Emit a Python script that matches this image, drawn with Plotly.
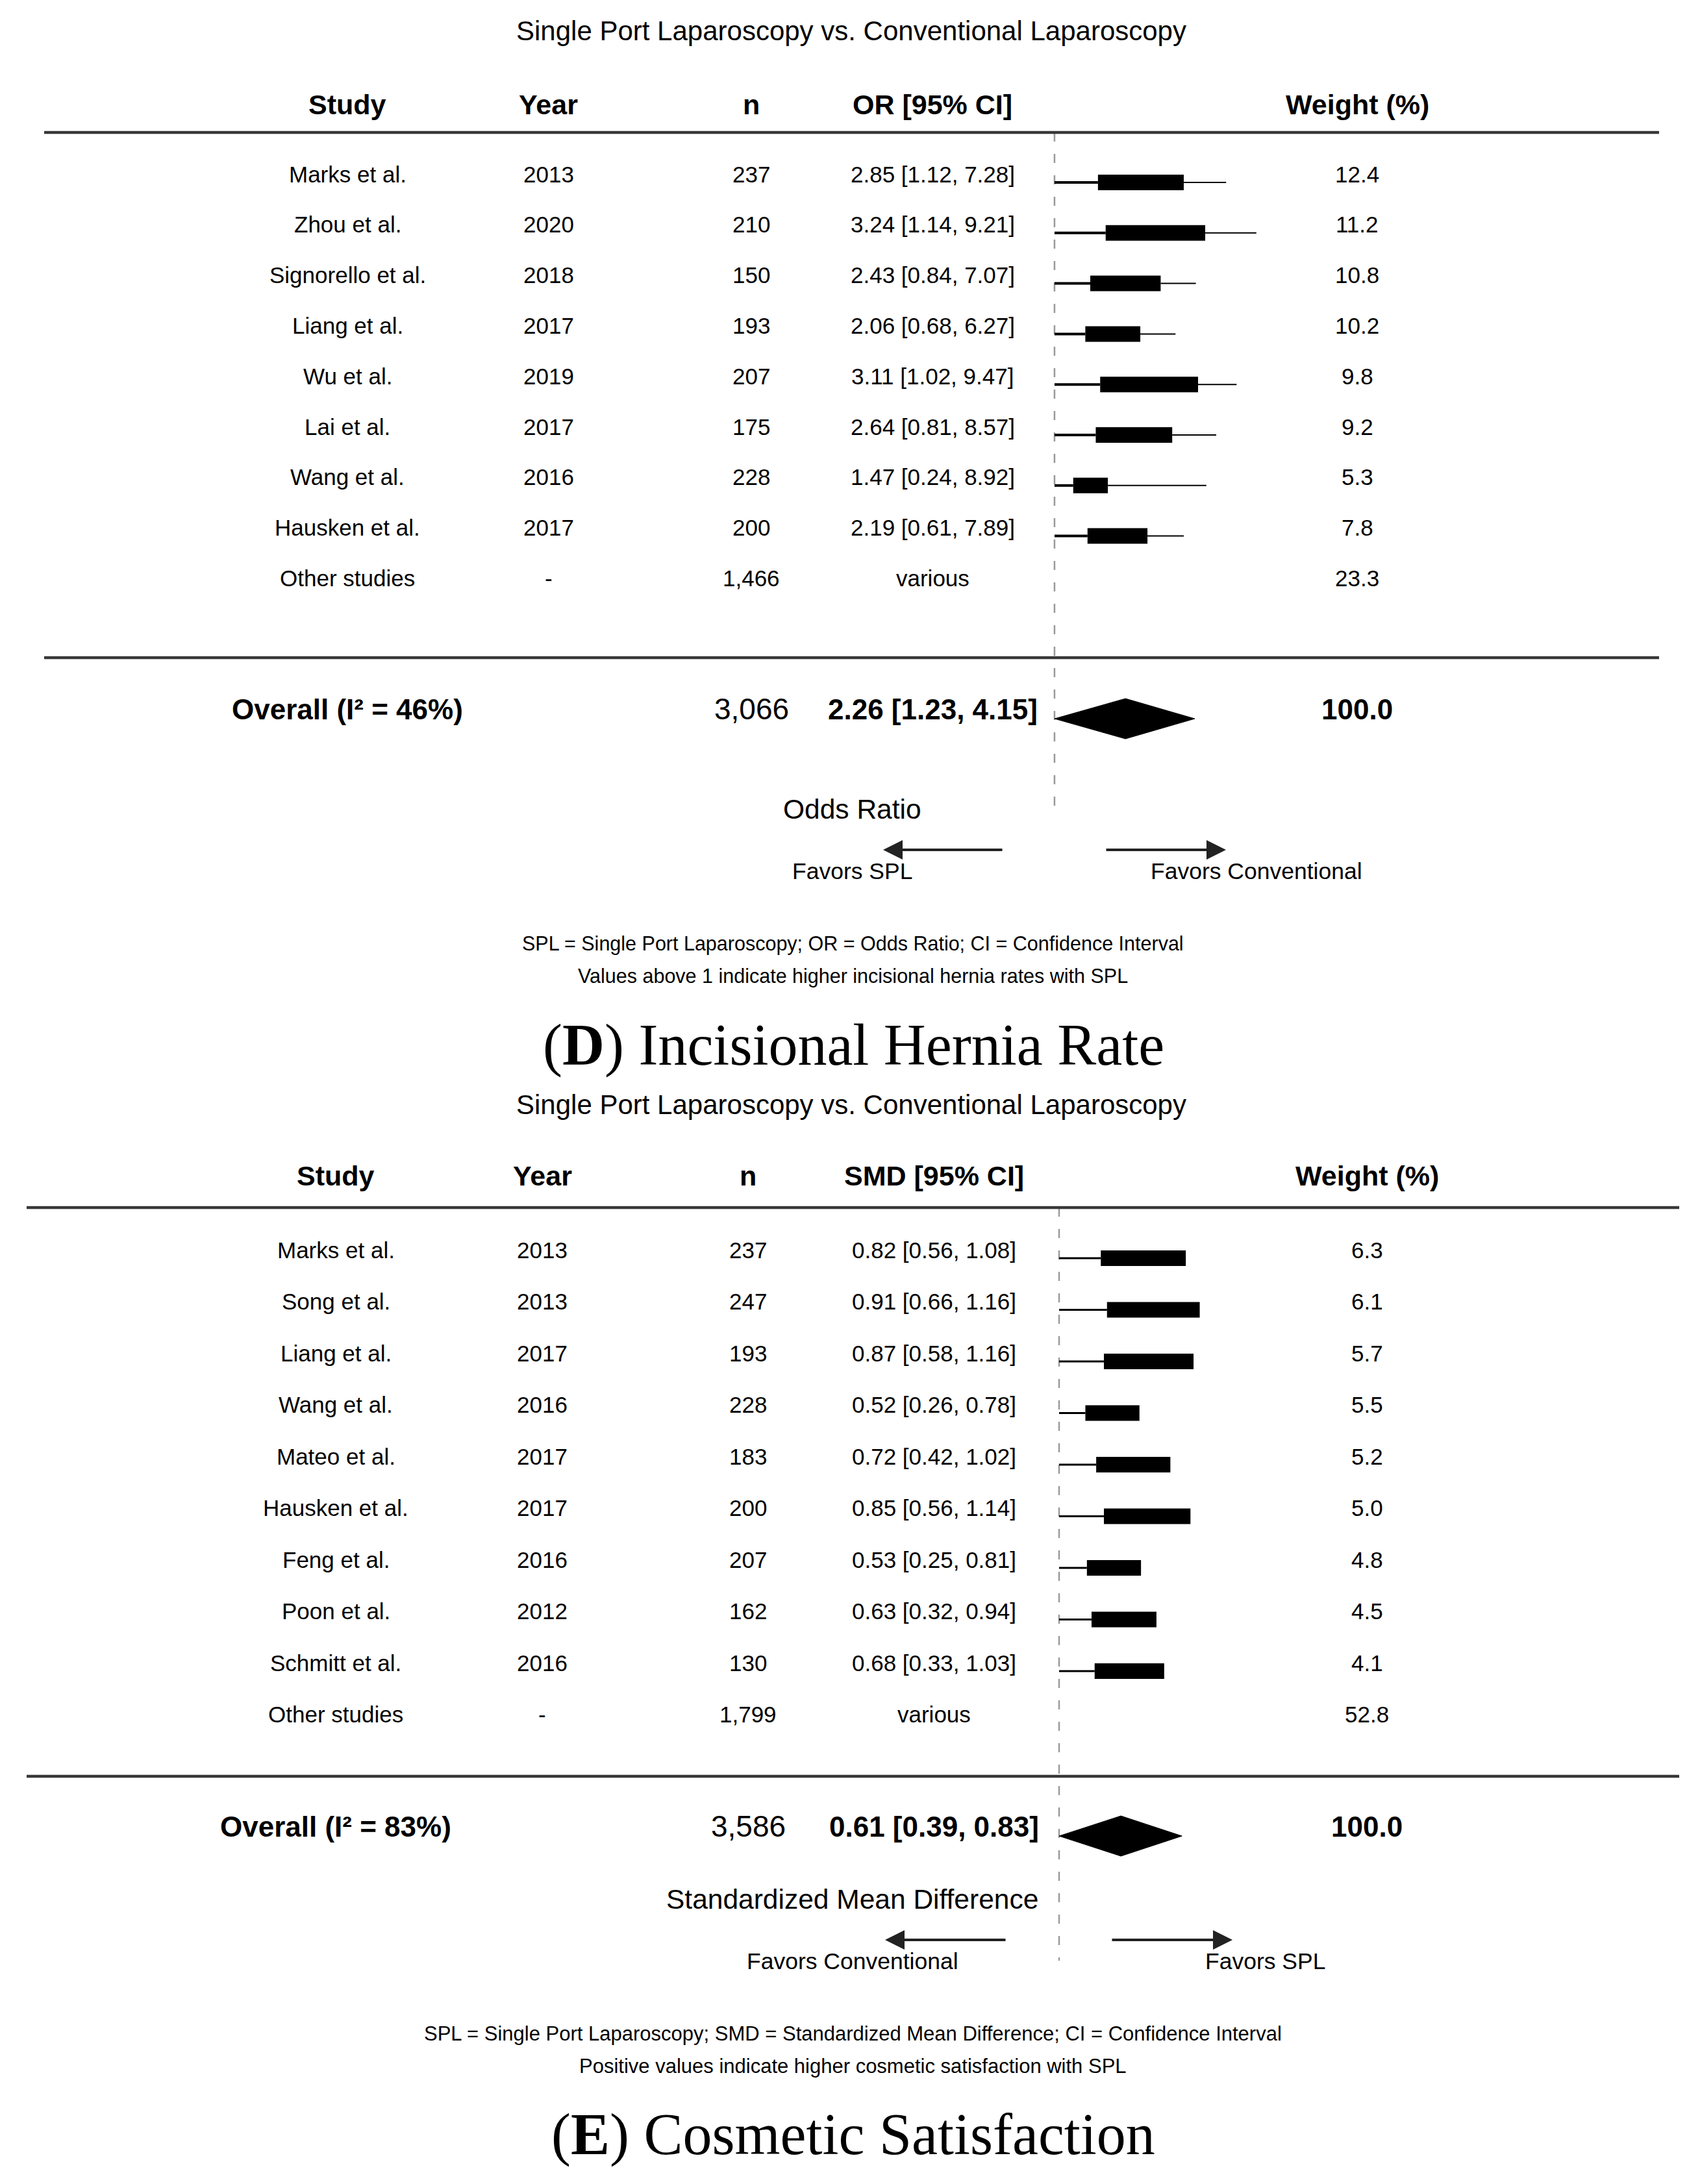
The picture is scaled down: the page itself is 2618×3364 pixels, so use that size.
import plotly.graph_objects as go

W, H = 2618, 3364          # page (window) size
OFF = 8                    # default body margin of the html page
FW, FH = W - OFF, H - OFF  # figure size so that it fills the window exactly
SANS = "Liberation Sans, Arial, Helvetica, sans-serif"
SERIF = "Liberation Serif, Times New Roman, serif"

# ---------------- Panel D: Incisional hernia rate (odds ratio) ----------------
studies_d = ["Marks et al.", "Zhou et al.", "Signorello et al.", "Liang et al.",
             "Wu et al.", "Lai et al.", "Wang et al.", "Hausken et al."]
years_d = [2013, 2020, 2018, 2017, 2019, 2017, 2016, 2017]
n_d = [237, 210, 150, 193, 207, 175, 228, 200]
or_d = [2.85, 3.24, 2.43, 2.06, 3.11, 2.64, 1.47, 2.19]
or_lo_d = [1.12, 1.14, 0.84, 0.68, 1.02, 0.81, 0.24, 0.61]
or_hi_d = [7.28, 9.21, 7.07, 6.27, 9.47, 8.57, 8.92, 7.89]
weight_d = [12.4, 11.2, 10.8, 10.2, 9.8, 9.2, 5.3, 7.8]
# plotted extents as drawn in the figure (axis units)
box_start_d = [1.29, 1.43, 1.15, 1.06, 1.33, 1.25, 0.84, 1.10]
whisker_end_d = [3.62, 4.17, 3.07, 2.70, 3.81, 3.44, 3.26, 2.85]
ref_d = 0.5
other_n_d = 1466
other_weight_d = 23.3
overall_n_d = 3066
overall_or_d = [2.26, 1.23, 4.15]
overall_i2_d = 46
diamond_d = [0.5, 1.79, 3.05]

# ---------------- Panel E: Cosmetic satisfaction (SMD) ----------------
studies_e = ["Marks et al.", "Song et al.", "Liang et al.", "Wang et al.", "Mateo et al.",
             "Hausken et al.", "Feng et al.", "Poon et al.", "Schmitt et al."]
years_e = [2013, 2013, 2017, 2016, 2017, 2017, 2016, 2012, 2016]
n_e = [237, 247, 193, 228, 183, 200, 207, 162, 130]
smd_e = [0.82, 0.91, 0.87, 0.52, 0.72, 0.85, 0.53, 0.63, 0.68]
smd_lo_e = [0.56, 0.66, 0.58, 0.26, 0.42, 0.56, 0.25, 0.32, 0.33]
smd_hi_e = [1.08, 1.16, 1.16, 0.78, 1.02, 1.14, 0.81, 0.94, 1.03]
weight_e = [6.3, 6.1, 5.7, 5.5, 5.2, 5.0, 4.8, 4.5, 4.1]
box_start_e = [0.27, 0.31, 0.29, 0.17, 0.24, 0.29, 0.18, 0.21, 0.23]
ref_e = 0.0
other_n_e = 1799
other_weight_e = 52.8
overall_n_e = 3586
overall_smd_e = [0.61, 0.39, 0.83]
overall_i2_e = 83
diamond_e = [0.0, 0.40, 0.795]

# ---------------- layout geometry (page pixels) ----------------
D_ORIGIN, D_SCALE = 1581.6, 84.7     # page x of value 0 and px per unit, panel D
E_ORIGIN, E_SCALE = 1631.0, 238.0    # panel E
rows_d_y0, rows_d_dy = 270, 77.8
rows_e_y0, rows_e_dy = 1927, 79.5
BAR_OFF = 11
BOX_H = 24
TXT_DY = -2                          # nudge for visual centring of text

cols_d = {"study": 535, "year": 845, "n": 1157, "est": 1436, "w": 2090}
cols_e = {"study": 517, "year": 835, "n": 1152, "est": 1438, "w": 2105}

ann = []
shapes = []


def px_x(px):
    return (px - OFF) / FW


def px_y(py):
    return 1 - (py - OFF) / FH


def txt(s, px, py, size, bold=False, family=SANS, color="#000"):
    ann.append(dict(text=f"<b>{s}</b>" if bold else s, x=px_x(px), y=px_y(py + TXT_DY),
                    xref="paper", yref="paper", showarrow=False,
                    font=dict(size=size, family=family, color=color),
                    xanchor="center", yanchor="middle"))


def hline(py, x0, x1, width=4.5, color="#383838"):
    shapes.append(dict(type="line", xref="paper", yref="paper",
                       x0=px_x(x0), x1=px_x(x1), y0=px_y(py), y1=px_y(py),
                       line=dict(color=color, width=width)))


def arrow(head_x, tail_x, py):
    ann.append(dict(text="", x=px_x(head_x), y=px_y(py), xref="paper", yref="paper",
                    showarrow=True, ax=tail_x - head_x, ay=0, axref="pixel", ayref="pixel",
                    arrowhead=2, arrowsize=1.5, arrowwidth=4, arrowcolor="#222"))


fig = go.Figure()


def panel(title_y, header_y, line_top, line_bot, cols, est_hdr, studies, years, ns, est, lo, hi,
          weights, other_n, other_w, rows_y0, rows_dy, overall_y, overall_n, overall_est,
          i2, axis_label, label_y, favors_y, fav_left, fav_right, fav_left_x, fav_right_x,
          arrows, foot1, foot2, foot_y, foot_size, caption, caption_y, line_x0, line_x1):
    txt("Single Port Laparoscopy vs. Conventional Laparoscopy", 1311, title_y, 42)
    for key, lab in [("study", "Study"), ("year", "Year"), ("n", "n"), ("est", est_hdr),
                     ("w", "Weight (%)")]:
        txt(lab, cols[key], header_y, 43, bold=True)
    hline(line_top, line_x0, line_x1)
    hline(line_bot, line_x0, line_x1)
    for i, s in enumerate(studies):
        y = rows_y0 + rows_dy * i
        txt(s, cols["study"], y, 35)
        txt(str(years[i]), cols["year"], y, 35)
        txt(f"{ns[i]:,}", cols["n"], y, 35)
        txt(f"{est[i]:.2f} [{lo[i]:.2f}, {hi[i]:.2f}]", cols["est"], y, 35)
        txt(f"{weights[i]:.1f}", cols["w"], y, 35)
    y = rows_y0 + rows_dy * len(studies)
    txt("Other studies", cols["study"], y, 35)
    txt("-", cols["year"], y, 35)
    txt(f"{other_n:,}", cols["n"], y, 35)
    txt("various", cols["est"], y, 35)
    txt(f"{other_w:.1f}", cols["w"], y, 35)
    txt(f"Overall (I² = {i2}%)", cols["study"], overall_y, 44, bold=True)
    txt(f"{overall_n:,}", cols["n"], overall_y, 46)
    txt(f"{overall_est[0]:.2f} [{overall_est[1]:.2f}, {overall_est[2]:.2f}]", cols["est"],
        overall_y, 44, bold=True)
    txt("100.0", cols["w"], overall_y, 44, bold=True)
    txt(axis_label, 1312, label_y, 42.5)
    txt(fav_left, fav_left_x, favors_y, 35.5)
    txt(fav_right, fav_right_x, favors_y, 35.5)
    for (hx, tx) in arrows:
        arrow(hx, tx, favors_y - 35)
    txt(foot1, 1313, foot_y, foot_size)
    txt(foot2, 1313, foot_y + 50, foot_size)
    txt(caption, 1314, caption_y, 90, family=SERIF)


panel(50, 163, 204, 1013, cols_d, "OR [95% CI]", studies_d, years_d, n_d, or_d, or_lo_d,
      or_hi_d, weight_d, other_n_d, other_weight_d, rows_d_y0, rows_d_dy, 1094, overall_n_d,
      overall_or_d, overall_i2_d, "Odds Ratio", 1248, 1344, "Favors SPL", "Favors Conventional",
      1312, 1935, [(1360, 1545), (1888, 1702)],
      "SPL = Single Port Laparoscopy; OR = Odds Ratio; CI = Confidence Interval",
      "Values above 1 indicate higher incisional hernia rates with SPL", 1455, 30.5,
      "(<b>D</b>) Incisional Hernia Rate", 1612, 68, 2555)

panel(1703, 1813, 1860, 2736, cols_e, "SMD [95% CI]", studies_e, years_e, n_e, smd_e, smd_lo_e,
      smd_hi_e, weight_e, other_n_e, other_weight_e, rows_e_y0, rows_e_dy, 2815, overall_n_e,
      overall_smd_e, overall_i2_e, "Standardized Mean Difference", 2927, 3023,
      "Favors Conventional", "Favors SPL", 1313, 1948, [(1363, 1550), (1898, 1711)],
      "SPL = Single Port Laparoscopy; SMD = Standardized Mean Difference; CI = Confidence Interval",
      "Positive values indicate higher cosmetic satisfaction with SPL", 3134, 31,
      "(<b>E</b>) Cosmetic Satisfaction", 3290, 41, 2586)

# ---------------- marks (through the axes) ----------------
bar_y_d = [rows_d_y0 + rows_d_dy * i + BAR_OFF for i in range(len(studies_d))]
bar_y_e = [rows_e_y0 + rows_e_dy * i + BAR_OFF for i in range(len(studies_e))]

# reference dashed lines
fig.add_trace(go.Scatter(x=[ref_d, ref_d], y=[204, 1247], mode="lines", xaxis="x", yaxis="y",
                         line=dict(color="#9a9a9a", width=2.5, dash="14px,19px"),
                         hoverinfo="skip", showlegend=False))
fig.add_trace(go.Scatter(x=[ref_e, ref_e], y=[1860, 3020], mode="lines", xaxis="x2", yaxis="y",
                         line=dict(color="#9a9a9a", width=2.5, dash="14px,19px"),
                         hoverinfo="skip", showlegend=False))

# boxes
fig.add_trace(go.Bar(y=bar_y_d, x=[e - b for e, b in zip(or_d, box_start_d)], base=box_start_d,
                     orientation="h", width=BOX_H, marker=dict(color="black", line=dict(width=0)),
                     xaxis="x", yaxis="y", showlegend=False))
fig.add_trace(go.Bar(y=bar_y_e, x=[e - b for e, b in zip(smd_e, box_start_e)], base=box_start_e,
                     orientation="h", width=BOX_H, marker=dict(color="black", line=dict(width=0)),
                     xaxis="x2", yaxis="y", showlegend=False))

# whisker lines
lx, ly, rx, ry = [], [], [], []
for i in range(len(studies_d)):
    lx += [ref_d, box_start_d[i], None]
    ly += [bar_y_d[i], bar_y_d[i], None]
    rx += [or_d[i], whisker_end_d[i], None]
    ry += [bar_y_d[i], bar_y_d[i], None]
fig.add_trace(go.Scatter(x=lx, y=ly, mode="lines", xaxis="x", yaxis="y",
                         line=dict(color="black", width=4), showlegend=False))
fig.add_trace(go.Scatter(x=rx, y=ry, mode="lines", xaxis="x", yaxis="y",
                         line=dict(color="black", width=2), showlegend=False))
ex, ey = [], []
for i in range(len(studies_e)):
    ex += [ref_e, box_start_e[i], None]
    ey += [bar_y_e[i], bar_y_e[i], None]
fig.add_trace(go.Scatter(x=ex, y=ey, mode="lines", xaxis="x2", yaxis="y",
                         line=dict(color="black", width=3), showlegend=False))

# diamonds
for dia, cy, xa in [(diamond_d, 1107, "x"), (diamond_e, 2828, "x2")]:
    fig.add_trace(go.Scatter(x=[dia[0], dia[1], dia[2], dia[1], dia[0]],
                             y=[cy, cy - 31, cy, cy + 31, cy], mode="lines", fill="toself",
                             fillcolor="black", line=dict(color="black", width=1),
                             xaxis=xa, yaxis="y", showlegend=False))

fig.update_layout(
    width=FW, height=FH, autosize=False,
    margin=dict(l=0, r=0, t=0, b=0, pad=0),
    paper_bgcolor="white", plot_bgcolor="white",
    barmode="overlay", showlegend=False,
    xaxis=dict(range=[(OFF - D_ORIGIN) / D_SCALE, (W - D_ORIGIN) / D_SCALE], domain=[0, 1],
               visible=False, fixedrange=True),
    xaxis2=dict(range=[(OFF - E_ORIGIN) / E_SCALE, (W - E_ORIGIN) / E_SCALE], domain=[0, 1],
                overlaying="x", anchor="y", visible=False, fixedrange=True),
    yaxis=dict(range=[H, OFF], domain=[0, 1], visible=False, fixedrange=True),
    annotations=ann, shapes=shapes,
)

fig.write_html("out.html")
